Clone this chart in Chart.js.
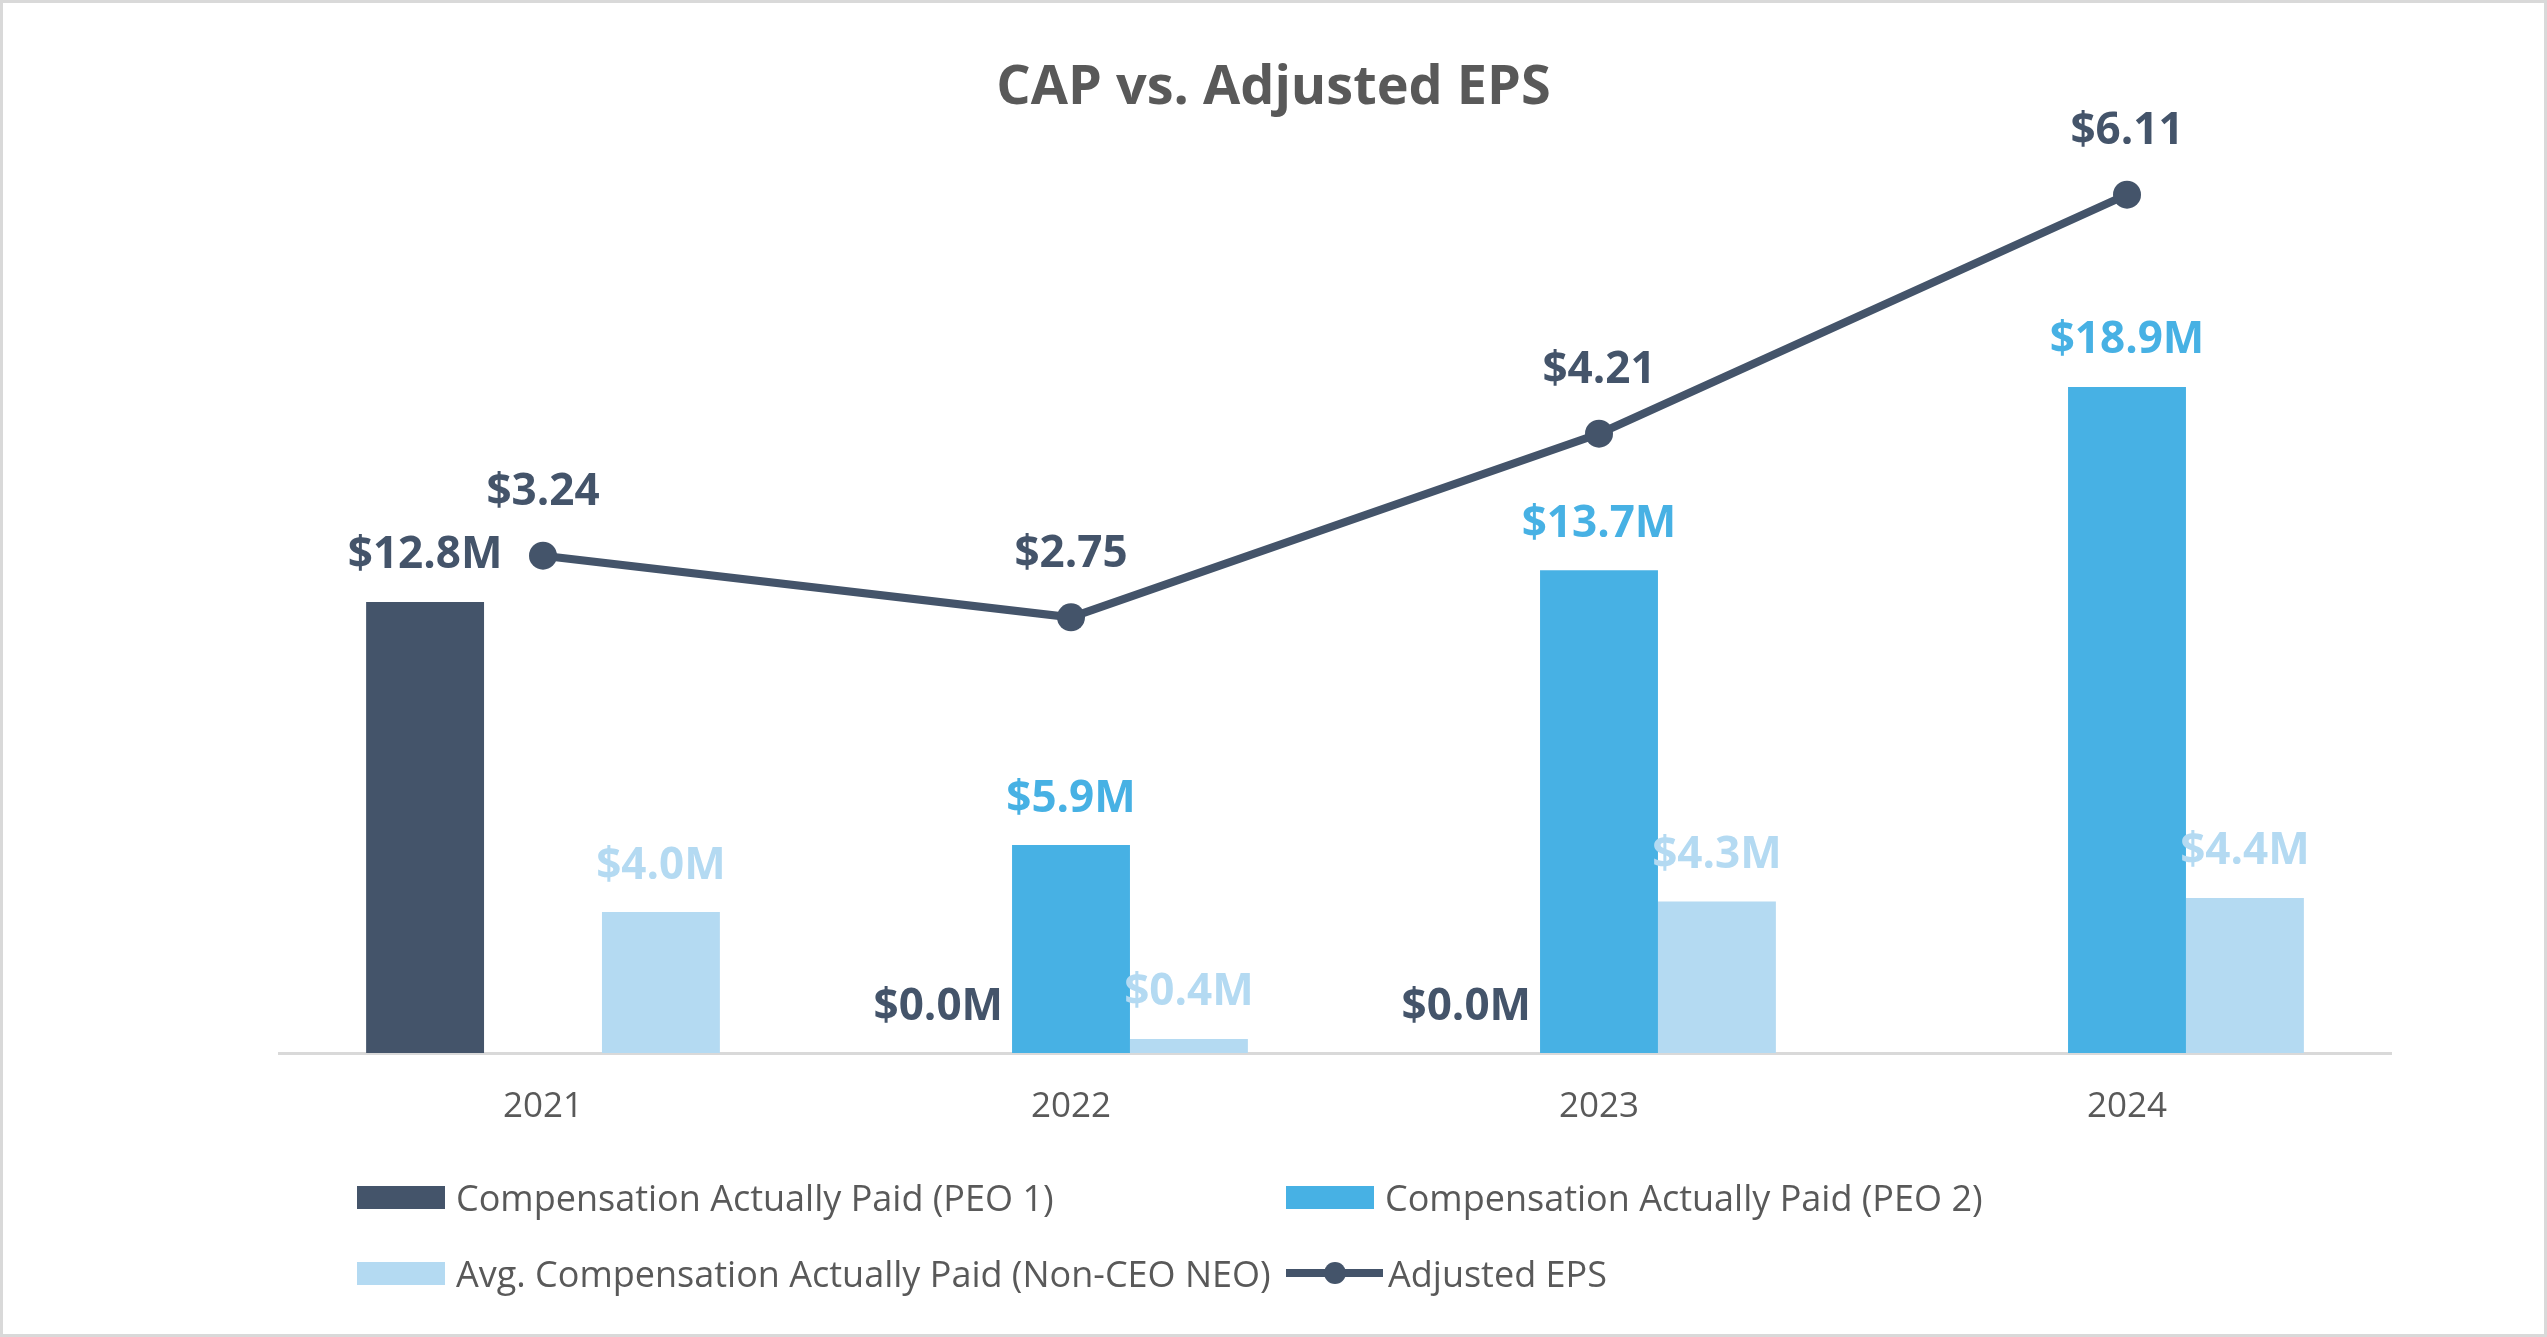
<!DOCTYPE html>
<html>
<head>
<meta charset="utf-8">
<title>CAP vs. Adjusted EPS</title>
<script src="https://cdn.jsdelivr.net/npm/chart.js@4.4.1/dist/chart.umd.min.js"></script>
<style>
  html, body { margin: 0; padding: 0; background: #fff; }
  #wrap { position: relative; width: 2547px; height: 1337px; }
  #frame { position: absolute; left: 0; top: 0; right: 0; bottom: 0; border: 3px solid #d9d9d9; pointer-events: none; }
  #title {
    position: absolute; left: 0; right: 0; top: 50px; height: 66px; line-height: 66px;
    text-align: center; font-family: 'Open Sans', sans-serif; font-weight: bold; font-size: 54px; color: #595959;
  }
  #legend {
    position: absolute; left: 357px; top: 1159px;
    display: grid; grid-template-columns: 929px auto; grid-auto-rows: 76px;
    font-family: 'Open Sans', sans-serif; font-size: 36px; color: #595959;
  }
  .item { display: flex; align-items: center; white-space: nowrap; }
  .box { width: 88px; height: 23px; margin-right: 11px; }
  .lineKey { position: relative; width: 97px; height: 24px; margin-right: 5px; }
  .lineKey .ln { position: absolute; left: 0; right: 0; top: 8px; height: 8px; }
  .lineKey .dot { position: absolute; left: 38px; top: 1px; width: 22px; height: 22px; border-radius: 50%; }
</style>
</head>
<body>
<div id="wrap">
  <canvas id="myChart" width="2547" height="1337"></canvas>
  <div id="title">CAP vs. Adjusted EPS</div>
  <div id="legend"></div>
  <div id="frame"></div>
</div>
<script>
// data
const years = ['2021', '2022', '2023', '2024'];
const capPeo1 = [12.8, 0, 0, null];
const capPeo2 = [null, 5.9, 13.7, 18.9];
const capNeoAvg = [4.0, 0.4, 4.3, 4.4];
const adjEps = [3.24, 2.75, 4.21, 6.11];

const DARK = '#44546A';
const BLUE = '#47B1E4';
const LIGHT = '#B4DAF2';
const GREY = '#595959';

// labels above bars and points
const valueLabels = {
  id: 'valueLabels',
  afterDatasetsDraw(chart) {
    const ctx = chart.ctx;
    ctx.save();
    ctx.font = 'bold 44px "Open Sans"';
    ctx.textBaseline = 'middle';
    chart.data.datasets.forEach((ds, i) => {
      const meta = chart.getDatasetMeta(i);
      meta.data.forEach((el, j) => {
        const v = ds.data[j];
        if (v === null || v === undefined) return;
        ctx.fillStyle = ds.labelColor;
        if (ds.type === 'line') {
          ctx.textAlign = 'center';
          ctx.fillText('$' + v.toFixed(2), el.x, el.y - 63);
        } else if (v === 0) {
          // zero bars: label sits just left of the next bar
          ctx.textAlign = 'right';
          ctx.fillText('$' + v.toFixed(1) + 'M', el.x + el.width / 2 - 9, el.y - 46);
        } else {
          ctx.textAlign = 'center';
          ctx.fillText('$' + v.toFixed(1) + 'M', el.x, el.y - 46);
        }
      });
    });
    ctx.restore();
  }
};

const ctx = document.getElementById('myChart');
const myChart = new Chart(ctx, {
  type: 'bar',
  data: {
    labels: years,
    datasets: [
      {
        label: 'Compensation Actually Paid (PEO 1)',
        data: capPeo1,
        backgroundColor: DARK,
        labelColor: DARK,
        yAxisID: 'y',
        order: 1
      },
      {
        label: 'Compensation Actually Paid (PEO 2)',
        data: capPeo2,
        backgroundColor: BLUE,
        labelColor: BLUE,
        yAxisID: 'y',
        order: 1
      },
      {
        label: 'Avg. Compensation Actually Paid (Non-CEO NEO)',
        data: capNeoAvg,
        backgroundColor: LIGHT,
        labelColor: LIGHT,
        yAxisID: 'y',
        order: 1
      },
      {
        type: 'line',
        label: 'Adjusted EPS',
        data: adjEps,
        borderColor: DARK,
        backgroundColor: DARK,
        labelColor: DARK,
        borderWidth: 8,
        pointRadius: 14,
        pointBorderWidth: 0,
        pointBackgroundColor: DARK,
        tension: 0,
        yAxisID: 'y1',
        order: 0
      }
    ]
  },
  options: {
    responsive: false,
    animation: false,
    datasets: {
      bar: { categoryPercentage: 0.67, barPercentage: 1.0 }
    },
    layout: {
      padding: { left: 279, right: 156, top: 172, bottom: 176 }
    },
    plugins: {
      legend: { display: false },
      tooltip: { enabled: false },
      title: { display: false }
    },
    scales: {
      x: {
        grid: { display: false, drawTicks: false },
        border: { display: true, color: '#D9D9D9', width: 3 },
        ticks: {
          color: GREY,
          font: { family: 'Open Sans', size: 35 },
          padding: 33
        }
      },
      y: {
        display: false,
        min: 0,
        max: 25
      },
      y1: {
        display: false,
        position: 'right',
        min: -0.713,
        max: 6.29
      }
    }
  },
  plugins: [valueLabels]
});

// html legend laid out as a 2x2 grid
const legendEl = document.getElementById('legend');
myChart.data.datasets.forEach(ds => {
  const item = document.createElement('div');
  item.className = 'item';
  const key = document.createElement('span');
  if (ds.type === 'line') {
    key.className = 'lineKey';
    key.innerHTML = '<span class="ln" style="background:' + ds.borderColor + '"></span>' +
      '<span class="dot" style="background:' + ds.borderColor + '"></span>';
  } else {
    key.className = 'box';
    key.style.background = ds.backgroundColor;
  }
  const txt = document.createElement('span');
  txt.textContent = ds.label;
  item.appendChild(key);
  item.appendChild(txt);
  legendEl.appendChild(item);
});
</script>
</body>
</html>
